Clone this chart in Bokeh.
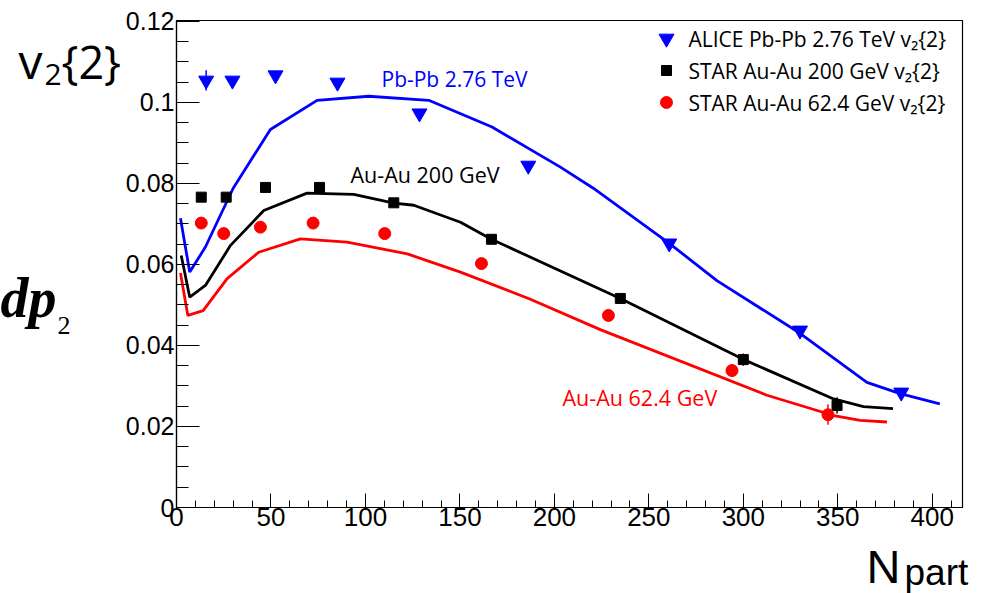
from bokeh.plotting import figure
from bokeh.models import Range1d, Label, SingleIntervalTicker, CustomJSTickFormatter
from bokeh.layouts import row, column
from bokeh.core.properties import value
from bokeh.embed import file_html
from bokeh.resources import INLINE

# ---------------- data ----------------
alice_x = [15.7, 29.6, 52.4, 85.2, 128.6, 186.2, 260.8, 330.0, 383.6]
alice_y = [0.1054, 0.1054, 0.1067, 0.1049, 0.0973, 0.0844, 0.0652, 0.0437, 0.0284]
alice_err = [0.0025, 0.0008, 0.0008, 0.0008, 0.0008, 0.0008, 0.0008, 0.0008, 0.0008]

star200_x = [13.1, 26.3, 47.1, 75.7, 115.0, 166.7, 234.9, 300.0, 349.6]
star200_y = [0.0766, 0.0766, 0.0790, 0.0790, 0.0752, 0.0662, 0.0516, 0.0365, 0.0252]
star200_err = [0.0008, 0.0008, 0.0008, 0.0008, 0.0008, 0.0008, 0.0008, 0.0015, 0.002]

star62_x = [13.1, 25.0, 44.4, 72.3, 110.2, 161.4, 228.6, 294.0, 344.8]
star62_y = [0.0702, 0.0676, 0.0692, 0.0702, 0.0676, 0.0602, 0.0474, 0.0338, 0.0229]
star62_err = [0.0008, 0.0008, 0.0008, 0.0008, 0.0008, 0.0008, 0.0008, 0.0008, 0.0025]

pbpb_line_x = [2.1, 7.0, 15.3, 30.0, 49.7, 74.4, 101.7, 133.5, 167.0, 203.2, 220.6, 260.8, 286.0, 330.0, 365.4, 383.0, 404.0]
pbpb_line_y = [0.0714, 0.0581, 0.0643, 0.0788, 0.0933, 0.1005, 0.1015, 0.1005, 0.0939, 0.0840, 0.0788, 0.0652, 0.0560, 0.0430, 0.0309, 0.0281, 0.0256]

au200_line_x = [2.5, 7.0, 15.3, 28.6, 46.2, 69.1, 93.8, 115.0, 125.6, 150.3, 166.7, 234.9, 300.2, 347.8, 363.6, 379.2]
au200_line_y = [0.0622, 0.0519, 0.0548, 0.0647, 0.0733, 0.0776, 0.0773, 0.0751, 0.0746, 0.0704, 0.0662, 0.0516, 0.0365, 0.0268, 0.0249, 0.0244]

au62_line_x = [2.1, 6.0, 14.1, 26.8, 43.5, 65.6, 90.3, 122.2, 150.3, 187.3, 224.3, 312.5, 347.8, 361.9, 376.0]
au62_line_y = [0.0579, 0.0474, 0.0486, 0.0565, 0.0630, 0.0663, 0.0655, 0.0626, 0.0581, 0.0514, 0.0439, 0.0277, 0.0227, 0.0215, 0.0211]

legend_labels = ["ALICE Pb-Pb 2.76 TeV v\u2082{2}",
                 "STAR Au-Au 200 GeV v\u2082{2}",
                 "STAR Au-Au 62.4 GeV v\u2082{2}"]

BLUE = "#0000ff"
RED = "#ff0000"
BLACK = "#000000"

# ---------------- layout ----------------
W, H = 984, 593
LEFT_W = 122          # side panel holding the y title
TOP_H = 537           # height of the main row
BOT_H = H - TOP_H     # bottom panel holding the x title
FL, FR, FT, FB = 176, 962, 20, 507
XMAX, YMAX = 416.0, 0.1202


def dx(px):
    return (px - FL) / (FR - FL) * XMAX


def dy(py):
    return (FB - py) / (FB - FT) * YMAX


p = figure(width=W - LEFT_W, height=TOP_H, output_backend="svg", toolbar_location=None,
           x_range=Range1d(0, XMAX), y_range=Range1d(0, YMAX),
           min_border_left=FL - LEFT_W, min_border_right=W - FR,
           min_border_top=FT, min_border_bottom=TOP_H - FB)
p.background_fill_color = "white"
p.border_fill_color = "white"
p.outline_line_color = "black"
p.outline_line_width = 1.2
p.xgrid.visible = False
p.ygrid.visible = False

p.xaxis.ticker = SingleIntervalTicker(interval=50, num_minor_ticks=5)
p.yaxis.ticker = SingleIntervalTicker(interval=0.02, num_minor_ticks=4)
p.yaxis.formatter = CustomJSTickFormatter(
    code="let s = tick.toFixed(2); s = s.replace(/0+$/, ''); s = s.replace(/\\.$/, ''); return s;")
for ax in (p.xaxis[0], p.yaxis[0]):
    ax.axis_line_color = "black"
    ax.axis_line_width = 1.2
    ax.major_tick_line_color = "black"
    ax.minor_tick_line_color = "black"
    ax.major_tick_out = 0
    ax.minor_tick_out = 0
    ax.major_label_text_color = "black"
p.yaxis.major_tick_in = 23
p.yaxis.minor_tick_in = 12
p.xaxis.major_tick_in = 14
p.xaxis.minor_tick_in = 7
p.yaxis.major_label_text_font = "Liberation Sans"
p.yaxis.major_label_text_font_size = "25px"
p.yaxis.major_label_standoff = 2
p.xaxis.major_label_text_font = "Liberation Sans"
p.xaxis.major_label_text_font_size = "26px"
p.xaxis.major_label_standoff = 0

# model curves
p.line(pbpb_line_x, pbpb_line_y, color=BLUE, line_width=2.8)
p.line(au200_line_x, au200_line_y, color=BLACK, line_width=2.8)
p.line(au62_line_x, au62_line_y, color=RED, line_width=2.8)

# error bars
p.segment(alice_x, [y - e for y, e in zip(alice_y, alice_err)],
          alice_x, [y + e for y, e in zip(alice_y, alice_err)], color=BLUE, line_width=1.5)
p.segment(star200_x, [y - e for y, e in zip(star200_y, star200_err)],
          star200_x, [y + e for y, e in zip(star200_y, star200_err)], color=BLACK, line_width=1.5)
p.segment(star62_x, [y - e for y, e in zip(star62_y, star62_err)],
          star62_x, [y + e for y, e in zip(star62_y, star62_err)], color=RED, line_width=1.5)

# data points
p.scatter(alice_x, alice_y, marker="inverted_triangle", size=15, color=BLUE)
p.scatter(star200_x, star200_y, marker="square", size=10, color=BLACK)
p.scatter(star62_x, star62_y, marker="circle", size=12, color=RED)

# legend (manual, no border)
leg_rows = [38, 70, 102]
p.scatter([dx(666)], [dy(leg_rows[0])], marker="inverted_triangle", size=15, color=BLUE)
p.scatter([dx(666)], [dy(leg_rows[1])], marker="square", size=10, color=BLACK)
p.scatter([dx(666)], [dy(leg_rows[2])], marker="circle", size=12, color=RED)
for lab, r in zip(legend_labels, leg_rows):
    p.add_layout(Label(x=dx(688), y=dy(r), text=lab, text_font="Open Sans",
                       text_font_size="21px", text_color="black",
                       text_baseline="middle", text_align="left"))

# curve annotations
ann_font = "Open Sans"
p.add_layout(Label(x=dx(381), y=dy(78), text="Pb-Pb 2.76 TeV", text_font=ann_font,
                   text_font_size="21px", text_color=BLUE, text_baseline="middle"))
p.add_layout(Label(x=dx(350), y=dy(174), text="Au-Au 200 GeV", text_font=ann_font,
                   text_font_size="21.5px", text_color=BLACK, text_baseline="middle"))
p.add_layout(Label(x=dx(562), y=dy(397), text="Au-Au 62.4 GeV", text_font=ann_font,
                   text_font_size="21.5px", text_color=RED, text_baseline="middle"))


def panel(w, h):
    f = figure(width=w, height=h, output_backend="svg", toolbar_location=None,
               x_range=Range1d(0, w), y_range=Range1d(0, h),
               min_border_left=0, min_border_right=0, min_border_top=0, min_border_bottom=0)
    f.axis.visible = False
    f.xgrid.visible = False
    f.ygrid.visible = False
    f.outline_line_color = None
    f.background_fill_color = "white"
    f.border_fill_color = "white"
    return f


# left panel: y titles (y measured from panel top)
lp = panel(LEFT_W, TOP_H)
lp.text(x=[18], y=[TOP_H - 44], text=["v"], text_font=value("Open Sans"),
        text_font_size="48px", text_color="black", text_baseline="middle")
lp.text(x=[44], y=[TOP_H - 60], text=["2"], text_font=value("Open Sans"),
        text_font_size="30px", text_color="black", text_baseline="middle")
lp.text(x=[61], y=[TOP_H - 45], text=["{2}"], text_font=value("Open Sans"),
        text_font_size="45px", text_color="black", text_baseline="middle")
lp.text(x=[0], y=[TOP_H - 306], text=["dp"], text_font=value("Liberation Serif"),
        text_font_style="bold italic", text_font_size="56px",
        text_color="black", text_baseline="middle")
lp.text(x=[57], y=[TOP_H - 336], text=["2"], text_font=value("Liberation Serif"),
        text_font_size="26px", text_color="black", text_baseline="middle")

# bottom panel: x title (y measured from panel top at TOP_H)
bp = panel(W, BOT_H)
bp.text(x=[866], y=[BOT_H - (566 - TOP_H)], text=["N"], text_font=value("Liberation Sans"),
        text_font_size="47px", text_color="black", text_baseline="middle")
bp.text(x=[904], y=[BOT_H - (572 - TOP_H)], text=["part"], text_font=value("Liberation Sans"),
        text_font_size="37px", text_color="black", text_baseline="middle")

layout = column(row(lp, p, spacing=0), bp, spacing=0)
open("out.html", "w").write(file_html(layout, INLINE))
